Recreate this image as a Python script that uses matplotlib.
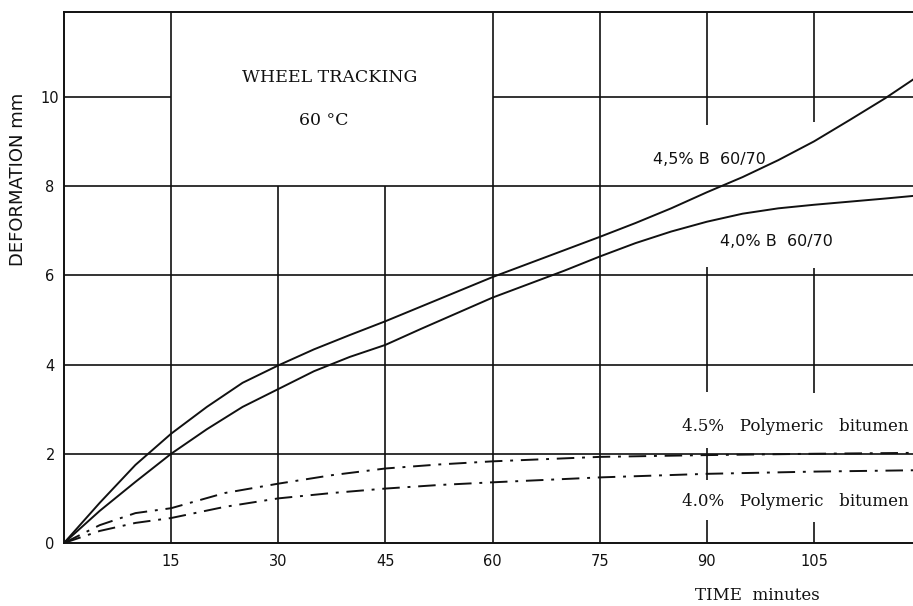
import matplotlib
matplotlib.use("Agg")
import matplotlib.pyplot as plt

# ---- data ----
t_solid = [0, 5, 10, 15, 20, 25, 30, 35, 40, 45, 50, 55, 60, 65, 70, 75,
           80, 85, 90, 95, 100, 105, 110, 115, 119]
b45 = [0, 0.9, 1.75, 2.45, 3.05, 3.59, 3.98, 4.34, 4.66, 4.97, 5.3, 5.63, 5.96, 6.26, 6.56, 6.86,
       7.17, 7.5, 7.86, 8.2, 8.58, 9.0, 9.48, 9.97, 10.4]
b40 = [0, 0.72, 1.37, 2.0, 2.55, 3.05, 3.45, 3.85, 4.17, 4.44, 4.8, 5.15, 5.5, 5.8, 6.1, 6.42,
       6.72, 6.98, 7.2, 7.38, 7.5, 7.58, 7.65, 7.72, 7.78]

t_poly = [0, 5, 10, 15, 22.5, 30, 37.5, 45, 52.5, 60, 75, 90, 105, 119]
p45 = [0, 0.4, 0.67, 0.78, 1.12, 1.33, 1.52, 1.67, 1.76, 1.83, 1.93, 1.97, 2.0, 2.02]
p40 = [0, 0.27, 0.45, 0.56, 0.81, 1.0, 1.12, 1.22, 1.3, 1.36, 1.47, 1.55, 1.6, 1.63]

x_ticks = [15, 30, 45, 60, 75, 90, 105]
y_ticks = [0, 2, 4, 6, 8, 10]

title_lines = ["WHEEL TRACKING", "60 °C"]
series_labels = ["4,5% B  60/70", "4,0% B  60/70",
                 "4.5%   Polymeric   bitumen", "4.0%   Polymeric   bitumen"]

# ---- figure ----
W, H = 913, 606
fig = plt.figure(figsize=(W / 100, H / 100), dpi=100)
left_px, right_px, bottom_px, top_px = 64, 914, 543, 12
ax = fig.add_axes([left_px / W, (H - bottom_px) / H,
                   (right_px - left_px) / W, (bottom_px - top_px) / H])
XMAX, YMAX = 119, 11.9
ax.set_xlim(0, XMAX)
ax.set_ylim(0, YMAX)

ink = "#111111"
glw = 1.2
# irregular hand-drawn grid
ax.hlines([2, 4, 6, 8], 0, XMAX, color=ink, lw=glw)
ax.hlines(10, 0, 15, color=ink, lw=glw)
ax.hlines(10, 60, XMAX, color=ink, lw=glw)
ax.vlines([15, 60, 75], 0, YMAX, color=ink, lw=glw)
ax.vlines([30, 45], 0, 8, color=ink, lw=glw)
for lo, hi in [(0, 0.52), (1.41, 2.13), (3.39, 6.19), (9.37, YMAX)]:
    ax.vlines(90, lo, hi, color=ink, lw=glw)
for lo, hi in [(0, 0.47), (3.37, 6.17), (9.44, YMAX)]:
    ax.vlines(105, lo, hi, color=ink, lw=glw)

# curves
ax.plot(t_solid, b45, color=ink, lw=1.4, solid_capstyle="round", solid_joinstyle="round")
ax.plot(t_solid, b40, color=ink, lw=1.4, solid_capstyle="round", solid_joinstyle="round")
dashdot = (0, (9, 4, 1.5, 4))
ax.plot(t_poly, p45, color=ink, lw=1.4, linestyle=dashdot)
ax.plot(t_poly, p40, color=ink, lw=1.4, linestyle=dashdot)

# spines / ticks
for s in ["left", "bottom", "top"]:
    ax.spines[s].set_linewidth(1.4)
    ax.spines[s].set_color(ink)
ax.spines["right"].set_visible(False)
ax.set_xticks(x_ticks)
ax.set_yticks(y_ticks)
ax.tick_params(length=0, labelsize=10.5, colors=ink)
ax.tick_params(axis="x", pad=8)
ax.tick_params(axis="y", pad=10)
for lab in ax.get_xticklabels() + ax.get_yticklabels():
    lab.set_family("DejaVu Sans")
for lab in ax.get_yticklabels():
    lab.set_horizontalalignment("center")

# annotations
ax.text(37.2, 10.43, title_lines[0], ha="center", va="center", fontsize=12.5, color=ink, family="DejaVu Serif")
ax.text(36.3, 9.46, title_lines[1], ha="center", va="center", fontsize=12.5, color=ink, family="DejaVu Serif")
ax.text(90.4, 8.59, series_labels[0], ha="center", va="center", fontsize=11.5, color=ink)
ax.text(99.8, 6.75, series_labels[1], ha="center", va="center", fontsize=11.5, color=ink)
ax.text(118.3, 2.62, series_labels[2], ha="right", va="center", fontsize=12, color=ink, family="DejaVu Serif")
ax.text(118.3, 0.92, series_labels[3], ha="right", va="center", fontsize=12, color=ink, family="DejaVu Serif")

fig.text(757 / W, 1 - 595 / H, "TIME  minutes", ha="center", va="center", fontsize=12, color=ink, family="DejaVu Serif")
fig.text(18 / W, 1 - 179 / H, "DEFORMATION mm", rotation=90, ha="center", va="center", fontsize=13, color=ink)

fig.savefig("out.png", dpi=100)
